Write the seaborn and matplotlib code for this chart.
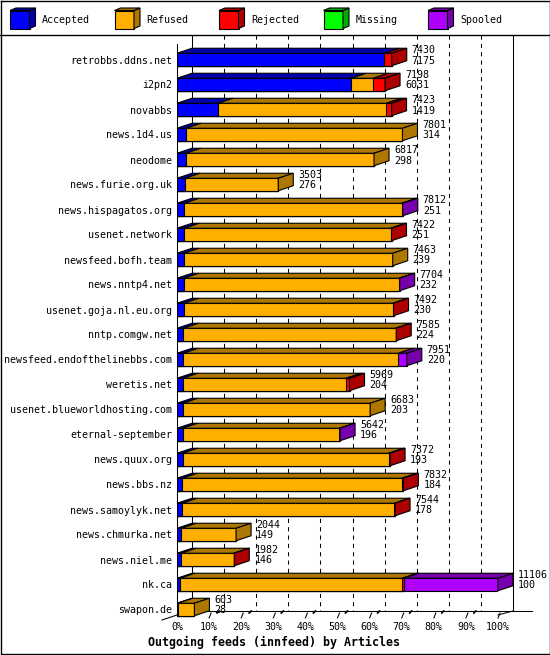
import numpy as np
import pandas as pd
import seaborn as sns
import matplotlib.pyplot as plt

# ---------------------------------------------------------------
# Dados
# ---------------------------------------------------------------
hosts = ["retrobbs.ddns.net", "i2pn2", "novabbs", "news.1d4.us", "neodome",
         "news.furie.org.uk", "news.hispagatos.org", "usenet.network",
         "newsfeed.bofh.team", "news.nntp4.net", "usenet.goja.nl.eu.org",
         "nntp.comgw.net", "newsfeed.endofthelinebbs.com", "weretis.net",
         "usenet.blueworldhosting.com", "eternal-september", "news.quux.org",
         "news.bbs.nz", "news.samoylyk.net", "news.chmurka.net", "news.niel.me",
         "nk.ca", "swapon.de"]
offered = [7430, 7198, 7423, 7801, 6817, 3503, 7812, 7422, 7463, 7704, 7492, 7585,
           7951, 5969, 6683, 5642, 7372, 7832, 7544, 2044, 1982, 11106, 603]
accepted = [7175, 6031, 1419, 314, 298, 276, 251, 251, 239, 232, 230, 224,
            220, 204, 203, 196, 193, 184, 178, 149, 146, 100, 28]
refused = [0, 760, 5824, 7487, 6519, 3227, 7521, 7140, 7224, 7452, 7242, 7336,
           7441, 5645, 6480, 5426, 7129, 7598, 7346, 1895, 1816, 7695, 575]
rejected = [255, 407, 180, 0, 0, 0, 0, 31, 0, 0, 20, 25,
            0, 120, 0, 0, 50, 50, 20, 0, 20, 50, 0]
missing = [0] * 23
spooled = [0, 0, 0, 0, 0, 0, 40, 0, 0, 20, 0, 0,
           290, 0, 0, 20, 0, 0, 0, 0, 0, 3261, 0]

series = ["Accepted", "Refused", "Rejected", "Missing", "Spooled"]
cores = ["#0000ff", "#ffaf00", "#ff0000", "#00ff00", "#af00ff"]
escuras = ["#0000ad", "#ad7700", "#ad0000", "#00ad00", "#7700ad"]

df = pd.DataFrame({"host": hosts, "Accepted": accepted, "Refused": refused,
                   "Rejected": rejected, "Missing": missing, "Spooled": spooled})
cum = df[series].cumsum(axis=1)

W, H = 550, 655
fig = plt.figure(figsize=(W / 100, H / 100), dpi=100)
mono = "DejaVu Sans Mono"
fs = 7.2

# canvas em pixels (moldura, legenda, parede do fundo)
cv = fig.add_axes([0, 0, 1, 1], zorder=0)
cv.set_xlim(0, W)
cv.set_ylim(H, 0)
cv.axis("off")

# eixo principal: 0% em x=177px, 100% em x=498px
x0, x100, ytop, ybot = 177, 498, 40, 620
row0, rowh = 59.5, 25.0
ax = fig.add_axes([x0 / W, (H - ybot) / H, (x100 - x0) / W, (ybot - ytop) / H], zorder=1)
ax.set_facecolor("none")

xmax = max(offered)
dx = 15 / (x100 - x0) * xmax
dy = -5 / rowh
bh = 0.5

# frente das barras (empilhadas por sobreposição)
for k in range(len(series) - 1, -1, -1):
    sns.barplot(x=cum[series[k]], y=df["host"], orient="h", color=cores[k],
                saturation=1, width=bh, edgecolor="black", linewidth=0.8, ax=ax)

# faces de cima e lateral (3D)
for i in range(len(hosts)):
    left = 0
    last = None
    for k, s in enumerate(series):
        v = df.loc[i, s]
        if v <= 0:
            continue
        right = left + v
        yt = i - bh / 2
        ax.fill([left, right, right + dx, left + dx], [yt, yt, yt + dy, yt + dy],
                facecolor=escuras[k], edgecolor="black", linewidth=0.8, clip_on=False, zorder=3)
        left = right
        last = k
    if last is not None:
        ax.fill([left, left, left + dx, left + dx],
                [i - bh / 2, i + bh / 2, i + bh / 2 + dy, i - bh / 2 + dy],
                facecolor=escuras[last], edgecolor="black", linewidth=0.8, clip_on=False, zorder=3)
    tx = offered[i] + dx + 5 / (x100 - x0) * xmax
    ax.text(tx, i - 0.38, str(offered[i]), fontsize=fs, family=mono, va="center", ha="left")
    ax.text(tx, i + 0.04, str(accepted[i]), fontsize=fs, family=mono, va="center", ha="left")

ax.set_xlim(0, xmax)
ax.set_ylim((ybot - row0) / rowh, (ytop - row0) / rowh)
for sp in ax.spines.values():
    sp.set_visible(False)
ax.set_xlabel("")
ax.set_ylabel("")
pcts = np.arange(0, 11)
ax.set_xticks(pcts / 10 * xmax)
ax.set_xticklabels([f"{p * 10}%" for p in pcts], family=mono, fontsize=fs)
ax.tick_params(axis="x", length=0, pad=1.5)
ax.tick_params(axis="y", length=0, pad=3.6)
for t in ax.get_yticklabels():
    t.set_family(mono)
    t.set_fontsize(fs)

# parede do fundo e grade tracejada
lw = 0.75
step = (x100 - x0) / 10
for j in range(1, 10):
    xg = x0 + 15 + j * step
    cv.plot([xg, xg], [35, 611], color="black", lw=lw, ls=(0, (4, 4)))
cv.plot([x0 + 15, x0 + 15], [35, 611], color="black", lw=lw)
cv.plot([x100 + 15, x100 + 15], [35, 611], color="black", lw=lw)
cv.plot([x0, x0], [44, 615], color="black", lw=lw)
cv.plot([x0 + 15, 532], [611, 611], color="black", lw=lw)
cv.plot([162, x0], [620, 615], color="black", lw=lw)
cv.plot([x100, x100 + 15], [615, 611], color="black", lw=lw)
for j in range(1, 11):
    xt = x0 + j * step
    cv.plot([xt, xt + 2], [618, 613], color="black", lw=lw)
    if j < 10:
        cv.plot([xt + 8, xt + 10], [613, 611], color="black", lw=1.2)

# moldura e legenda
cv.plot([0.5, W - 0.5, W - 0.5, 0.5, 0.5], [0.5, 0.5, H - 1.5, H - 1.5, 0.5], color="black", lw=1)
cv.plot([0, W], [35, 35], color="black", lw=1)
for k, s in enumerate(series):
    lx = 10 + k * 104.5
    cv.fill([lx, lx + 19.5, lx + 19.5, lx], [10.5, 10.5, 28.5, 28.5],
            facecolor=cores[k], edgecolor="black", linewidth=0.8)
    cv.fill([lx + 19.5, lx + 25.5, lx + 25.5, lx + 19.5], [10.5, 8, 26, 28.5],
            facecolor=escuras[k], edgecolor="black", linewidth=0.8)
    cv.fill([lx, lx + 6, lx + 25.5, lx + 19.5], [10.5, 8, 8, 10.5],
            facecolor=escuras[k], edgecolor="black", linewidth=0.8)
    cv.text(lx + 32, 20, s, fontsize=fs, family=mono, va="center", ha="left")

fig.text(274 / W, 1 - 642 / H, "Outgoing feeds (innfeed) by Articles", fontsize=8.4,
         family=mono, weight="bold", ha="center", va="center")

fig.savefig("out.png", dpi=100)
